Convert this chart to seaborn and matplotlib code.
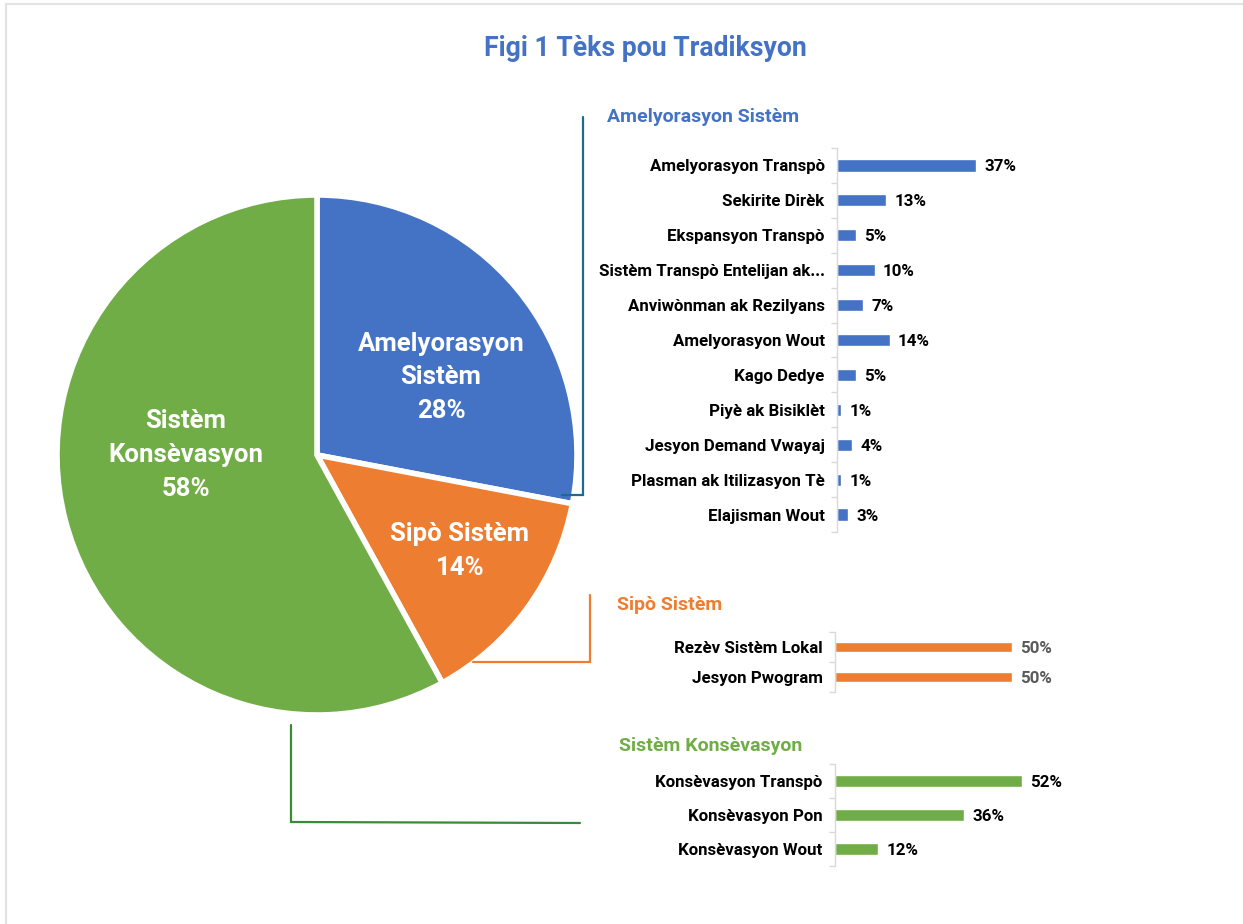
import matplotlib
matplotlib.use("Agg")
import matplotlib.pyplot as plt
from matplotlib.lines import Line2D
import seaborn as sns
import pandas as pd

sns.set_style("white")
plt.rcParams['font.family'] = ['Roboto', 'DejaVu Sans']

# ---------------- data ----------------
title = "Figi 1 Tèks pou Tradiksyon"

pie_labels = ["Amelyorasyon\nSistèm", "Sipò Sistèm", "Sistèm\nKonsèvasyon"]
pie_values = [28, 14, 58]
pie_colors = ["#4472C4", "#ED7D31", "#70AD47"]

amel_title = "Amelyorasyon Sistèm"
amel_cats = ["Amelyorasyon Transpò", "Sekirite Dirèk", "Ekspansyon Transpò",
             "Sistèm Transpò Entelijan ak...", "Anviwònman ak Rezilyans",
             "Amelyorasyon Wout", "Kago Dedye", "Piyè ak Bisiklèt",
             "Jesyon Demand Vwayaj", "Plasman ak Itilizasyon Tè", "Elajisman Wout"]
amel_vals = [37, 13, 5, 10, 7, 14, 5, 1, 4, 1, 3]

sipo_title = "Sipò Sistèm"
sipo_cats = ["Rezèv Sistèm Lokal", "Jesyon Pwogram"]
sipo_vals = [50, 50]

kons_title = "Sistèm Konsèvasyon"
kons_cats = ["Konsèvasyon Transpò", "Konsèvasyon Pon", "Konsèvasyon Wout"]
kons_vals = [52, 36, 12]

W, H = 1243, 924
fig = plt.figure(figsize=(W / 100, H / 100), dpi=100)
fig.patch.set_facecolor("white")


def fx(x):
    return x / W


def fy(y):
    return 1 - y / H


# ---------------- pie ----------------
ax_pie = fig.add_axes([fx(57), fy(715), 520 / W, 520 / H])
wedges, _ = ax_pie.pie(pie_values, colors=pie_colors, startangle=90,
                       counterclock=False,
                       wedgeprops=dict(edgecolor="white", linewidth=4))
for w in wedges:
    w.set_clip_on(False)
ax_pie.set_xlim(-1, 1)
ax_pie.set_ylim(-1, 1)
ax_pie.set_aspect("equal")
ax_pie.axis("off")
label_pos = [(0.477, 0.30), (0.55, -0.37), (-0.504, 0.0)]
for lab, val, (px, py) in zip(pie_labels, pie_values, label_pos):
    ax_pie.text(px, py, f"{lab}\n{val}%", ha="center", va="center",
                color="white", fontsize=18.5, fontweight="bold",
                linespacing=1.5)


# ---------------- bar panels ----------------
def bar_panel(rect, cats, vals, color, xmax, val_color="black",
              label_size=12.2):
    ax = fig.add_axes(rect)
    df = pd.DataFrame({"cat": cats, "val": vals})
    sns.barplot(data=df, x="val", y="cat", ax=ax, color=color,
                saturation=1, width=0.35, orient="h")
    ax.set_xlim(0, xmax)
    ax.set_ylim(len(cats) - 0.5, -0.5)
    ax.set_xlabel("")
    ax.set_ylabel("")
    ax.set_xticks([])
    for s in ["top", "right", "bottom"]:
        ax.spines[s].set_visible(False)
    ax.spines["left"].set_color("#D9D9D9")
    ax.spines["left"].set_linewidth(1)
    ax.set_yticks([i - 0.5 for i in range(len(cats) + 1)], minor=True)
    ax.tick_params(axis="y", which="minor", length=4, color="#D9D9D9",
                   width=1, left=True)
    ax.tick_params(axis="y", which="major", length=0, pad=9,
                   labelsize=label_size)
    for t in ax.get_yticklabels():
        t.set_fontweight("bold")
        t.set_color("black")
    texts = ax.bar_label(ax.containers[0], labels=[f"{v}%" for v in vals],
                         padding=6, fontsize=label_size, fontweight="bold",
                         color=val_color)
    for t in texts:
        t.set_va("center_baseline")
    ax.set_facecolor("none")
    return ax


bar_panel([fx(837), fy(532), 225.6 / W, 384 / H], amel_cats, amel_vals,
          "#4472C4", 60)
bar_panel([fx(835), fy(692), 212.4 / W, 60 / H], sipo_cats, sipo_vals,
          "#ED7D31", 60, val_color="#595959")
bar_panel([fx(835), fy(866), 215.4 / W, 102 / H], kons_cats, kons_vals,
          "#70AD47", 60)

# ---------------- titles ----------------
fig.text(fx(645), fy(48), title, ha="center", va="center", fontsize=19.2,
         fontweight="bold", color="#4472C4")
fig.text(fx(607), fy(117), amel_title, ha="left", va="center", fontsize=14,
         fontweight="bold", color="#4472C4")
fig.text(fx(617), fy(605), sipo_title, ha="left", va="center", fontsize=14,
         fontweight="bold", color="#ED7D31")
fig.text(fx(619), fy(746), kons_title, ha="left", va="center", fontsize=14,
         fontweight="bold", color="#70AD47")

# ---------------- connectors ----------------
def connector(xs, ys, color, lw=1.6):
    fig.add_artist(Line2D([fx(x) for x in xs], [fy(y) for y in ys],
                          color=color, lw=lw, transform=fig.transFigure,
                          solid_joinstyle="miter"))


connector([583, 583, 562], [117, 495, 495], "#1F6A8F")
connector([590, 590, 473], [595, 662, 662], "#ED7D31")
connector([291, 291, 580], [725, 822, 823], "#3A8A3A")

# frame border (top and left)
connector([6, 6, 1243], [924, 4, 4], "#E3E3E3", lw=1.5)

fig.savefig("out.png", dpi=100, facecolor="white")
